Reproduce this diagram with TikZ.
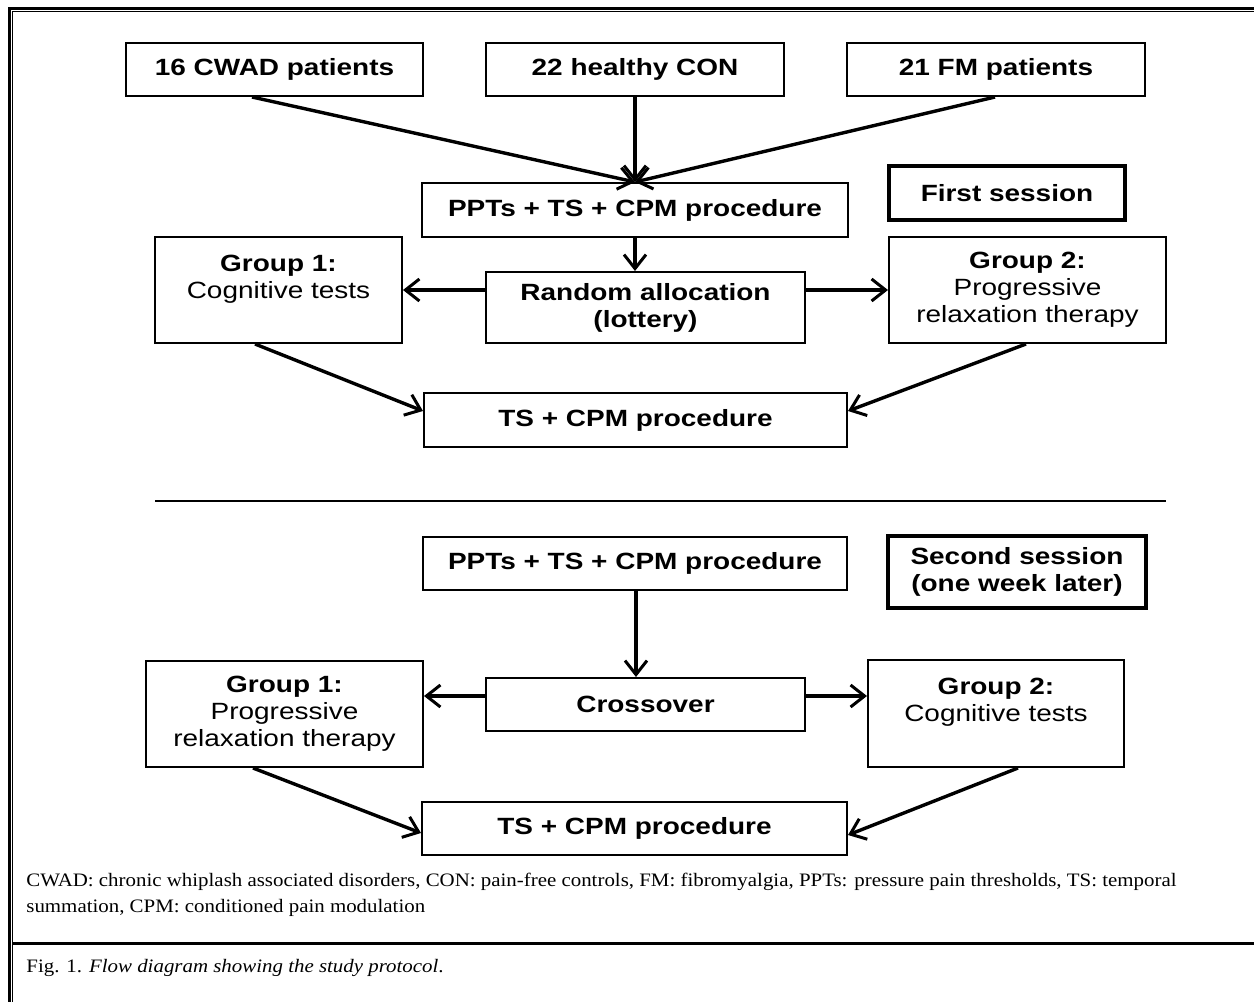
\documentclass[tikz,border=0pt]{standalone}
\usepackage{fontspec}
\usetikzlibrary{arrows.meta,calc}
\newfontfamily\boxfont[FakeStretch=1.19]{Liberation Sans}
\newfontfamily\capfont[FakeStretch=1.1]{Liberation Serif}
\begin{document}
\begin{tikzpicture}[x=0.5pt,y=-0.5pt,
  box/.style={draw, line width=1pt, inner sep=0pt, align=center,
    font=\boxfont\fontsize{11.75}{13.5}\selectfont},
  sess/.style={box, line width=1.8pt},
  arr/.style={line width=1.7pt, -{Straight Barb[length=7pt,width=11pt,line width=1.5pt]}},
  captxt/.style={anchor=base west, inner sep=0pt, font=\capfont\fontsize{9.5}{10}\selectfont},
]
\useasboundingbox (0,0) rectangle (1254,1002);
% frame
\draw[line width=1.5pt] (9.5,1010) -- (9.5,8) -- (1260,8);
\draw[line width=0.5pt] (12.5,1010) -- (12.5,11) -- (1260,11);
\draw[line width=1.5pt] (12.5,943) -- (1260,943);

% top row
\node[box, minimum width=148.5pt, minimum height=26.5pt] (cwad) at (274.5,69.5) {\bfseries 16 CWAD patients};
\node[box, minimum width=149pt, minimum height=26.5pt] (con) at (635,69.5) {\bfseries 22 healthy CON};
\node[box, minimum width=149pt, minimum height=26.5pt] (fm) at (996,69.5) {\bfseries 21 FM patients};

% first session
\node[box, minimum width=213pt, minimum height=27pt] (ppt1) at (635,210) {\bfseries PPTs + TS + CPM procedure};
\node[sess, minimum width=118pt, minimum height=27pt] (first) at (1007,193) {\bfseries First session};
\node[box, minimum width=159.5pt, minimum height=35.5pt] (rand) at (645.5,307.5) {\bfseries Random allocation\\\bfseries (lottery)};
\node[box, minimum width=123.5pt, minimum height=53pt] (g1a) at (278.5,290) {\bfseries Group 1:\\Cognitive tests\\\mbox{}};
\node[box, minimum width=138.5pt, minimum height=53pt] (g2a) at (1027.5,290) {\bfseries Group 2:\\Progressive\\relaxation therapy};
\node[box, minimum width=211.5pt, minimum height=27pt] (ts1) at (635.5,420) {\bfseries TS + CPM procedure};

\draw[line width=0.8pt] (155,501) -- (1166,501);

% second session
\node[box, minimum width=212pt, minimum height=26.5pt] (ppt2) at (635,563.5) {\bfseries PPTs + TS + CPM procedure};
\node[sess, minimum width=129pt, minimum height=36pt] (second) at (1017,572) {\bfseries Second session\\\bfseries (one week later)};
\node[box, minimum width=159.5pt, minimum height=26.5pt] (cross) at (645.5,704.5) {\bfseries Crossover};
\node[box, minimum width=138.5pt, minimum height=53pt] (g1b) at (284.5,714) {\bfseries Group 1:\\Progressive\\relaxation therapy};
\node[box, minimum width=128pt, minimum height=53.5pt] (g2b) at (996,713.5) {\bfseries Group 2:\\Cognitive tests\\\mbox{}};
\node[box, minimum width=212.5pt, minimum height=26.5pt] (ts2) at (634.5,828.5) {\bfseries TS + CPM procedure};

% connector end points
\coordinate (c1) at ($(cwad.south)+(-22.5,0)$);
\coordinate (f1) at ($(fm.south)+(-1,0)$);
\coordinate (g1as) at ($(g1a.south)+(-23.5,0)$);
\coordinate (g2as) at ($(g2a.south)+(-1.5,0)$);
\coordinate (ts1w) at ($(ts1.west)+(0,-9)$);
\coordinate (ts1e) at ($(ts1.east)+(0,-9)$);
\coordinate (p2s) at ($(ppt2.south)+(1,0)$);
\coordinate (crw) at ($(cross.west)+(0,-8.5)$);
\coordinate (cre) at ($(cross.east)+(0,-8.5)$);
\coordinate (g1bs) at ($(g1b.south)+(-31.5,0)$);
\coordinate (g2bs) at ($(g2b.south)+(22,0)$);
\coordinate (ts2w) at ($(ts2.west)+(0,4.5)$);
\coordinate (ts2e) at ($(ts2.east)+(0,6.5)$);

% connectors, first session
\draw[arr] (c1) -- (ppt1.north);
\draw[arr] (con.south) -- (ppt1.north);
\draw[arr] (f1) -- (ppt1.north);
\draw[arr] (ppt1.south) -- (ppt1.south |- rand.north);
\draw[arr] (rand.west |- g1a.east) -- (g1a.east);
\draw[arr] (rand.east |- g2a.west) -- (g2a.west);
\draw[arr] (g1as) -- (ts1w);
\draw[arr] (g2as) -- (ts1e);

% connectors, second session
\draw[arr] (p2s) -- (p2s |- cross.north);
\draw[arr] (crw) -- (crw -| g1b.east);
\draw[arr] (cre) -- (cre -| g2b.west);
\draw[arr] (g1bs) -- (ts2w);
\draw[arr] (g2bs) -- (ts2e);

% captions
\node[captxt] (cap1) at (26,886) {CWAD: chronic whiplash associated disorders, CON: pain-free controls, FM: fibromyalgia, PPTs: pressure pain thresholds, TS: temporal};
\node[captxt] (cap2) at (26,912) {summation, CPM: conditioned pain modulation};
\node[captxt] (fig) at (26,972) {Fig. 1. \textit{Flow diagram showing the study protocol}.};
\end{tikzpicture}
\end{document}
